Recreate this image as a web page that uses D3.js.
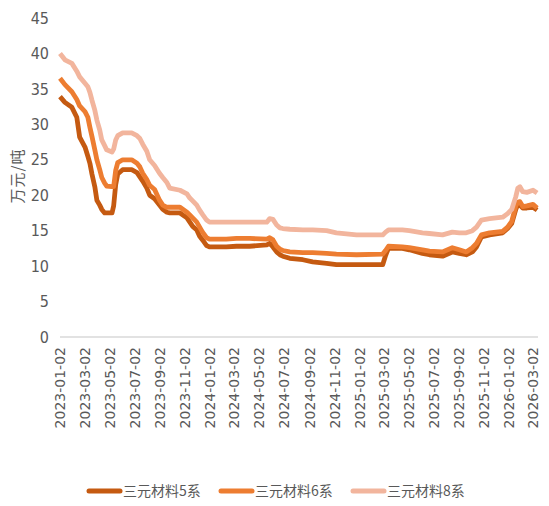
<!DOCTYPE html>
<html>
<head>
<meta charset="utf-8">
<script src="https://cdn.jsdelivr.net/npm/d3@7"></script>
<style>
  body { margin: 0; background: #fff; }
  svg { display: block; }
</style>
</head>
<body>
<svg id="chart"></svg>
<script>
// data (万元/吨)
var dates = ['2023-01-02','2023-01-14','2023-01-31','2023-02-12','2023-02-19','2023-03-04','2023-03-11','2023-03-16',
  '2023-03-21','2023-03-28','2023-04-02','2023-04-09','2023-04-14','2023-04-21','2023-04-26','2023-05-09','2023-05-13',
  '2023-05-18','2023-05-23','2023-06-04','2023-06-26','2023-07-09','2023-07-16','2023-07-23','2023-08-02','2023-08-09',
  '2023-08-21','2023-09-02','2023-09-10','2023-09-20','2023-09-27','2023-10-22','2023-11-08','2023-11-15','2023-11-22',
  '2023-12-02','2023-12-09','2023-12-16','2023-12-26','2024-01-02','2024-02-12','2024-03-08','2024-04-09','2024-05-21',
  '2024-05-28','2024-06-05','2024-06-14','2024-06-22','2024-06-29','2024-07-16','2024-08-17','2024-09-10','2024-10-14',
  '2024-11-07','2024-12-26','2025-02-28','2025-03-07','2025-03-14','2025-04-17','2025-05-04','2025-06-05','2025-06-22',
  '2025-07-24','2025-08-17','2025-09-03','2025-09-20','2025-10-05','2025-10-15','2025-10-27','2025-11-16','2025-12-18',
  '2025-12-30','2026-01-09','2026-01-19','2026-01-24','2026-01-29','2026-02-05','2026-02-15','2026-03-02','2026-03-12'];

var ncm5 = [33.9,33.1,32.4,31.0,28.2,26.8,25.5,24.5,23.0,21.2,19.3,18.6,18.0,17.5,17.5,17.5,18.5,21.5,23.0,23.6,23.6,
  23.2,22.6,22.0,21.0,20.0,19.5,18.6,18.0,17.6,17.5,17.5,16.8,16.2,15.6,15.1,14.2,13.7,12.9,12.7,12.7,12.8,12.8,13.0,
  13.2,12.7,12.0,11.6,11.4,11.1,10.9,10.6,10.4,10.2,10.2,10.2,11.5,12.5,12.5,12.3,11.8,11.6,11.4,12.0,11.8,11.6,12.0,
  12.7,14.1,14.4,14.7,15.3,16.0,18.0,18.7,18.6,18.2,18.2,18.3,17.9];

var ncm6 = [36.5,35.6,34.6,33.5,32.6,31.8,31.0,29.6,28.3,26.4,25.0,23.6,22.5,21.7,21.3,21.2,21.2,23.5,24.6,25.0,25.0,
  24.5,24.0,23.1,22.2,21.4,20.8,19.3,18.6,18.3,18.3,18.3,17.6,17.2,16.8,16.2,15.5,14.8,14.0,13.8,13.8,13.9,13.9,13.8,
  14.0,13.7,12.8,12.4,12.2,12.0,11.9,11.9,11.8,11.7,11.6,11.7,12.2,12.8,12.7,12.6,12.3,12.1,12.0,12.6,12.3,12.0,12.6,
  13.2,14.4,14.7,14.9,15.5,16.3,18.5,19.0,19.1,18.4,18.5,18.7,18.2];

var ncm8 = [40.0,39.1,38.6,37.5,36.7,35.8,35.3,34.5,33.4,32.0,30.6,29.2,27.8,27.0,26.4,26.1,26.5,27.8,28.4,28.8,28.8,
  28.4,28.0,27.2,26.2,25.0,24.2,23.1,22.5,21.8,21.0,20.7,20.2,19.6,19.2,18.6,17.9,17.3,16.5,16.2,16.2,16.2,16.2,16.2,
  16.7,16.6,15.8,15.4,15.3,15.2,15.1,15.1,15.0,14.7,14.4,14.4,14.8,15.1,15.1,15.0,14.7,14.6,14.4,14.8,14.7,14.7,15.0,
  15.5,16.5,16.7,16.9,17.4,18.0,19.8,21.0,21.2,20.5,20.4,20.7,20.3];

var seriesNames = ['三元材料5系', '三元材料6系', '三元材料8系'];
var seriesColors = ['#c55a11', '#ed7d31', '#f2b59d'];
var yTicks = [0, 5, 10, 15, 20, 25, 30, 35, 40, 45];
var xTickLabels = ['2023-01-02','2023-03-02','2023-05-02','2023-07-02','2023-09-02','2023-11-02','2024-01-02',
  '2024-03-02','2024-05-02','2024-07-02','2024-09-02','2024-11-02','2025-01-02','2025-03-02','2025-05-02',
  '2025-07-02','2025-09-02','2025-11-02','2026-01-02','2026-03-02'];

var width = 549, height = 506;
var parse = d3.timeParse('%Y-%m-%d');

var svg = d3.select('#chart')
    .attr('width', width)
    .attr('height', height);

var x = d3.scaleTime()
    .domain([parse('2023-01-02'), parse('2026-03-02')])
    .range([60, 533]);

var y = d3.scaleLinear()
    .domain([0, 45])
    .range([337, 18]);

var numFont = '"Liberation Sans Narrow", "DejaVu Sans Condensed", sans-serif';
var cjkFont = '"Noto Sans CJK SC", sans-serif';

// y axis labels (no axis line)
var yAxis = svg.append('g')
    .attr('transform', 'translate(49,0)')
    .call(d3.axisLeft(y).tickValues(yTicks).tickSize(0).tickPadding(0));
yAxis.select('.domain').remove();
yAxis.selectAll('text')
    .style('font-family', numFont)
    .style('font-size', '16px')
    .attr('fill', '#595959');

// y title
svg.append('text')
    .attr('transform', 'translate(18,176) rotate(-90)')
    .attr('text-anchor', 'middle')
    .attr('dy', '0.35em')
    .style('font-family', cjkFont)
    .style('font-size', '15px')
    .style('letter-spacing', '1px')
    .attr('fill', '#595959')
    .text('万元/吨');

// baseline
svg.append('line')
    .attr('x1', 60)
    .attr('x2', 538)
    .attr('y1', y(0))
    .attr('y2', y(0))
    .attr('stroke', '#d9d9d9')
    .attr('stroke-width', 1.5);

// x axis labels rotated
var xAxis = svg.append('g')
    .attr('transform', 'translate(0,' + y(0) + ')')
    .call(d3.axisBottom(x)
        .tickValues(xTickLabels.map(parse))
        .tickFormat(d3.timeFormat('%Y-%m-%d'))
        .tickSize(0));
xAxis.select('.domain').remove();
xAxis.selectAll('text')
    .attr('transform', 'rotate(-90)')
    .attr('text-anchor', 'end')
    .attr('x', -10)
    .attr('y', 0)
    .attr('dy', '0.35em')
    .style('font-family', '"DejaVu Sans", sans-serif')
    .style('font-size', '14px')
    .attr('fill', '#595959');

// lines
var allSeries = [ncm5, ncm6, ncm8];
var line = d3.line()
    .x(function(d, i) { return x(parse(dates[i])); })
    .y(function(d) { return y(d); });

svg.selectAll('path.series')
    .data(allSeries)
    .enter()
    .append('path')
    .attr('class', 'series')
    .attr('d', line)
    .attr('fill', 'none')
    .attr('stroke', function(d, i) { return seriesColors[i]; })
    .attr('stroke-width', 4.8)
    .attr('stroke-linejoin', 'round');

// legend
var legendX = [88, 220, 352];
var legend = svg.selectAll('g.legend')
    .data(seriesNames)
    .enter()
    .append('g')
    .attr('class', 'legend')
    .attr('transform', function(d, i) { return 'translate(' + legendX[i] + ',491)'; });

legend.append('line')
    .attr('x1', 1)
    .attr('x2', 32)
    .attr('stroke', function(d, i) { return seriesColors[i]; })
    .attr('stroke-width', 5)
    .attr('stroke-linecap', 'round');

legend.append('text')
    .attr('x', 35)
    .attr('dy', '0.35em')
    .style('font-family', cjkFont)
    .style('font-size', '14px')
    .attr('fill', '#595959')
    .text(function(d) { return d; });
</script>
</body>
</html>
